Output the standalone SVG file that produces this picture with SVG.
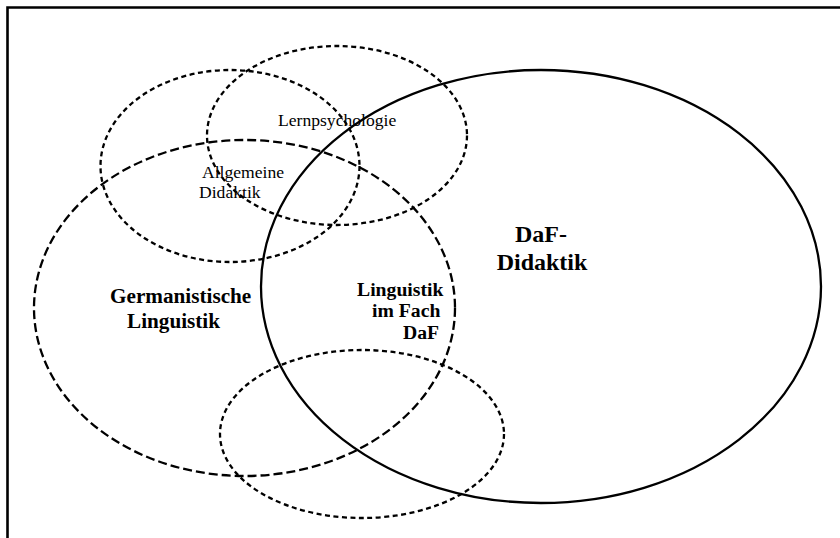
<svg xmlns="http://www.w3.org/2000/svg" width="840" height="538" viewBox="0 0 840 538">
<style>
.solid{fill:none;stroke:#000;stroke-width:2.3}
.long{fill:none;stroke:#000;stroke-width:2.3;stroke-dasharray:9 4}
.short{fill:none;stroke:#000;stroke-width:2.3;stroke-dasharray:5 3.5}
.t{font-family:"Liberation Serif","Times New Roman",serif;fill:#000}
.b{font-weight:bold}
</style>
<rect width="840" height="538" fill="#fff"/>
<path d="M7.5 538 V7.5 H840" fill="none" stroke="#000" stroke-width="2.6"/>
<g id="lernpsychologie">
<ellipse class="short" cx="337" cy="135.5" rx="130" ry="89.5"/>
<text class="t" x="278" y="126" font-size="17.6">Lernpsychologie</text>
</g>
<g id="allgemeine-didaktik">
<ellipse class="short" cx="230" cy="166" rx="129.5" ry="96"/>
<text class="t" font-size="17.6"><tspan x="202" y="178">Allgemeine</tspan><tspan x="199" y="198">Didaktik</tspan></text>
</g>
<g id="germanistische-linguistik">
<ellipse class="long" cx="244.5" cy="308" rx="210.5" ry="168"/>
<text class="t b" font-size="21.2"><tspan x="110" y="303">Germanistische</tspan><tspan x="127" y="328">Linguistik</tspan></text>
</g>
<g id="daf-didaktik">
<ellipse class="solid" cx="541" cy="286.5" rx="280" ry="216.5"/>
<text class="t b" font-size="24" text-anchor="middle"><tspan x="541" y="242">DaF-</tspan><tspan x="542" y="270">Didaktik</tspan></text>
</g>
<g id="unten">
<ellipse class="short" cx="362" cy="434" rx="142" ry="84"/>
</g>
<g id="linguistik-im-fach-daf">
<text class="t b" font-size="19.7"><tspan x="357" y="296">Linguistik</tspan><tspan x="372" y="317">im Fach</tspan><tspan x="403" y="339">DaF</tspan></text>
</g>
<g id="connectors"></g>
</svg>
